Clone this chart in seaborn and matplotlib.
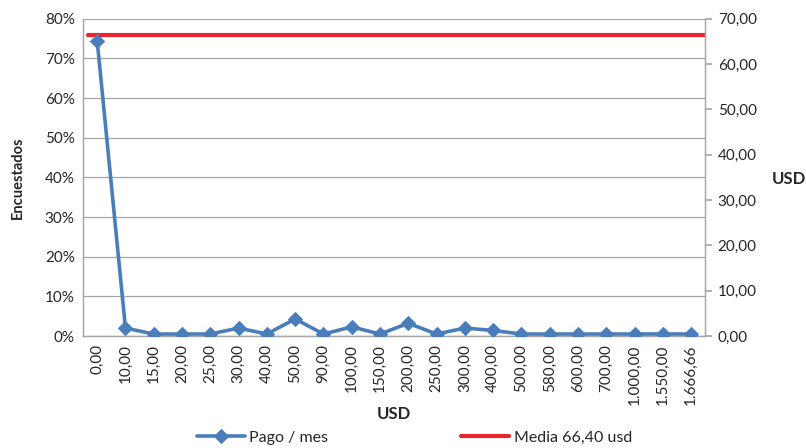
import pandas as pd
import numpy as np
import matplotlib.pyplot as plt
import seaborn as sns

#---------------data
usd_labels = ["0,00", "10,00", "15,00", "20,00", "25,00", "30,00", "40,00", "50,00",
              "90,00", "100,00", "150,00", "200,00", "250,00", "300,00", "400,00",
              "500,00", "580,00", "600,00", "700,00", "1.000,00", "1.550,00", "1.666,66"]
pago_pct = [74.5, 2.0, 0.5, 0.5, 0.5, 2.0, 0.5, 4.3, 0.5, 2.3, 0.5, 3.2, 0.5, 2.0,
            1.4, 0.5, 0.5, 0.5, 0.5, 0.5, 0.5, 0.5]
media_usd = 66.40

sns.set_theme(style="white")
plt.rcParams['font.family'] = ['Lato', 'DejaVu Sans']

df = pd.DataFrame({"usd": usd_labels, "pct": pago_pct})

fig = plt.figure(figsize=(8.06, 4.48), dpi=100)
ax = fig.add_axes([0.103, 0.25, 0.772, 0.708])

blue = "#4A7EBB"
red = "#E8262C"
grid_c = "#A6A6A6"

#---------------main series, left axis
sns.lineplot(data=df, x="usd", y="pct", ax=ax, color=blue, lw=2.6, marker="D",
             markersize=7.5, markeredgecolor=blue, sort=False, label="Pago / mes",
             legend=False, zorder=3)
ax.set_ylim(0, 80)
ax.set_xlim(-0.5, len(usd_labels) - 0.5)
ax.set_yticks(np.arange(0, 81, 10))
ax.set_yticklabels([f"{v}%" for v in range(0, 81, 10)], fontsize=11)
ax.yaxis.grid(True, color=grid_c, lw=0.9)
ax.set_xticks(range(len(usd_labels)))
ax.set_xticklabels(usd_labels, rotation=90, fontsize=11)
ax.set_xlabel("USD", fontsize=12, fontweight="bold", labelpad=1)
ax.set_ylabel("Encuestados", fontsize=10.5, fontweight="bold", labelpad=14)
ax.tick_params(axis="both", length=0, pad=6)

#---------------mean line, right axis
ax2 = ax.twinx()
ax2.axhline(media_usd, xmin=0.008, xmax=1.0, color=red, lw=3, label="Media 66,40 usd", zorder=2)
ax2.set_ylim(0, 70)
ax2.set_yticks(np.arange(0, 71, 10))
ax2.set_yticklabels([f"{v},00" for v in range(0, 71, 10)], fontsize=11)
ax2.tick_params(axis="y", length=5, color=grid_c, pad=4, direction="out")
ax2.set_ylabel("USD", fontsize=12, fontweight="bold", rotation=0)
ax2.yaxis.set_label_coords(1.135, 0.52)

for a in (ax, ax2):
    a.spines["top"].set_visible(False)
    for side in ("left", "right", "bottom"):
        a.spines[side].set_color(grid_c)
        a.spines[side].set_linewidth(0.9)

ax.set_zorder(ax2.get_zorder() + 1)
ax.patch.set_visible(False)

h1, l1 = ax.get_legend_handles_labels()
h2, l2 = ax2.get_legend_handles_labels()
fig.legend(h1 + h2, l1 + l2, loc="lower center", bbox_to_anchor=(0.514, -0.025), ncol=2,
           frameon=False, fontsize=11.5, columnspacing=8.3, handlelength=3.0, handletextpad=0.3)

fig.savefig("out.png", dpi=100)
